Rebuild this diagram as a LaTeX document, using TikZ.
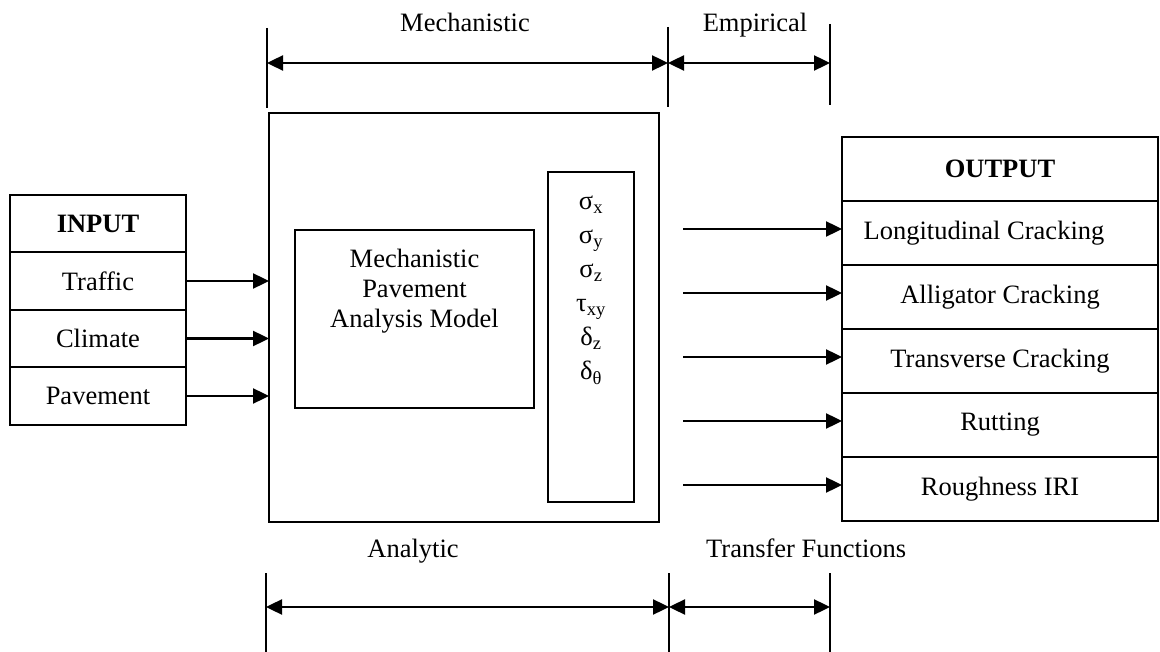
\documentclass[tikz,border=0pt]{standalone}
\usepackage{fontspec}
\setmainfont{Liberation Serif}
\usetikzlibrary{arrows.meta,positioning}
\tikzset{
  every node/.style={font=\fontsize{26.5}{30}\selectfont},
  box/.style={draw, line width=2pt, inner sep=0pt, outer sep=0pt},
  incell/.style={box, minimum width=176pt, minimum height=57.5pt},
  outcell/.style={box, minimum width=316pt, minimum height=64pt},
  arrow/.style={-{Triangle[length=16pt,width=15pt]}, line width=2.4pt},
  span/.style={{Triangle[length=16pt,width=15pt]}-{Triangle[length=16pt,width=15pt]}, line width=2.4pt},
  bar/.style={line width=1.6pt},
  annot/.style={inner sep=0pt}
}

\begin{document}
\begin{tikzpicture}[x=1pt,y=-1pt]
  \useasboundingbox (0,0) rectangle (1160,652);

  % input side
  \node[incell] (inp) at (98,223.5) {\textbf{INPUT}};
  \node[incell, below=0pt of inp] (trf) {Traffic};
  \node[incell, below=0pt of trf] (clm) {Climate};
  \node[incell, below=0pt of clm] (pav) {Pavement};

  % analysis block
  \node[box, minimum width=390pt, minimum height=409pt] (big) at (464,317.5) {};
  \node[box, minimum width=239pt, minimum height=178pt] (model) at (414.5,319) {};
  \node[align=center, anchor=north] (mtxt) at ([yshift=-16pt]model.north) {Mechanistic\\Pavement\\Analysis Model};
  \node[box, minimum width=86pt, minimum height=330pt] (resp) at (591,337) {};
  \foreach \s [count=\i] in {σ\textsubscript{x}, σ\textsubscript{y}, σ\textsubscript{z}, τ\textsubscript{xy}, δ\textsubscript{z}, δ\textsubscript{θ}}
    \node[annot, anchor=base] (s\i) at (591,176+34*\i) {\s};

  % output side
  \node[outcell] (out) at (1000,169) {\textbf{OUTPUT}};
  \node[outcell, below=0pt of out] (lng) {Longitudinal Cracking\hspace*{32pt}};
  \node[outcell, below=0pt of lng] (all) {Alligator Cracking};
  \node[outcell, below=0pt of all] (trv) {Transverse Cracking};
  \node[outcell, below=0pt of trv] (rut) {Rutting};
  \node[outcell, below=0pt of rut] (iri) {Roughness IRI};

  \foreach \r in {trf,clm,pav}
    \draw[arrow] (\r.east) -- (\r.east -| big.west);
  \foreach \r in {lng,all,trv,rut,iri}
    \draw[arrow] ([xshift=-159pt,yshift=4pt]\r.west) -- ([yshift=4pt]\r.west);

  % dimension lines
  \coordinate (t1) at (267,63);
  \coordinate (t2) at (668,63);
  \coordinate (t3) at (830,63);
  \coordinate (b1) at (266,607);
  \coordinate (b2) at (669,607);
  \coordinate (b3) at (830,607);
  \draw[bar] (267,28) -- (267,108);
  \draw[bar] (668,27) -- (668,107);
  \draw[bar] (830,24) -- (830,105);
  \draw[bar] (266,573) -- (266,652);
  \draw[bar] (669,573) -- (669,652);
  \draw[bar] (830,573) -- (830,652);
  \draw[span] (t1) -- (t2);
  \draw[span] (t2) -- (t3);
  \draw[span] (b1) -- (b2);
  \draw[span] (b2) -- (b3);

  \node[annot, anchor=base] (mech) at (465,32) {Mechanistic};
  \node[annot, anchor=base] (emp) at (755,32) {Empirical};
  \node[annot, anchor=base] (ana) at (413,557) {Analytic};
  \node[annot, anchor=base west] (tfn) at (706,557) {Transfer Functions};
\end{tikzpicture}
\end{document}
